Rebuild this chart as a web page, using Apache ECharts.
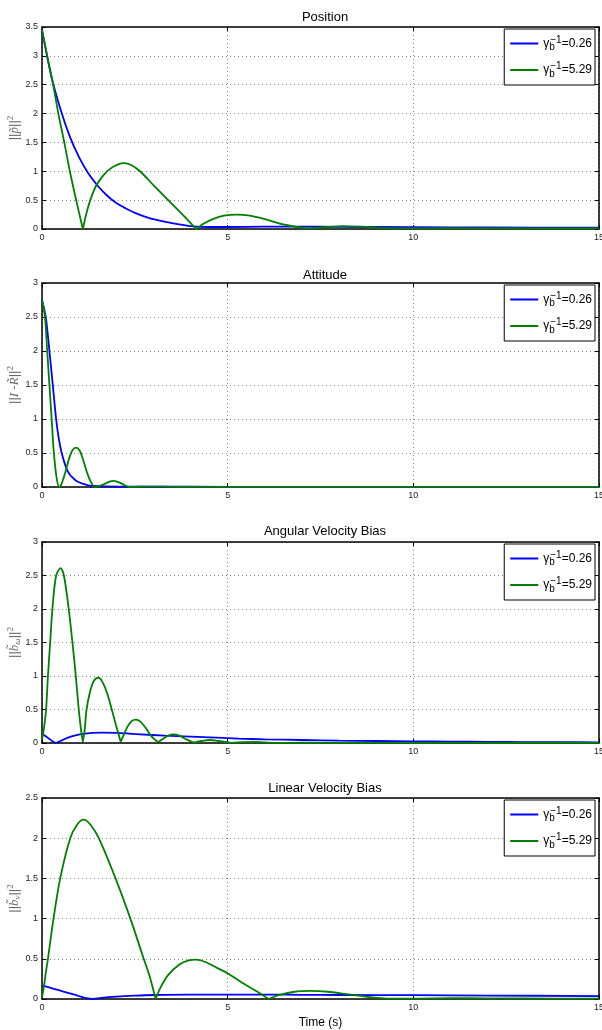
<!DOCTYPE html>
<html>
<head>
<meta charset="utf-8">
<script src="https://cdn.jsdelivr.net/npm/echarts@6/dist/echarts.min.js"></script>
<style>
html,body{margin:0;padding:0;background:#fff;}
#c{width:602px;height:1030px;}
</style>
</head>
<body>
<div id="c"></div>
<script>
// ---------- data ----------
var titles = ['Position', 'Attitude', 'Angular Velocity Bias', 'Linear Velocity Bias'];
var legendNames = ['γb−1=0.26', 'γb−1=5.29'];
var xTicks = [0, 5, 10, 15];
var yMax = [3.5, 3, 3, 2.5];

// Position
var posBlueT = [0,0.25,0.5,0.75,1.0,1.25,1.5,1.75,2.0,2.25,2.5,2.75,3.0,3.5,4.0,4.5,5,6,7,8,10,12,15];
var posBlueV = [3.45,2.65,2.07,1.6,1.24,0.96,0.75,0.58,0.45,0.36,0.28,0.22,0.17,0.1,0.05,0.035,0.035,0.04,0.04,0.038,0.032,0.027,0.022];
var posGreenT = [0,0.14,0.3,0.44,0.6,0.75,0.92,1.1,1.2,1.3,1.45,1.65,1.85,2.05,2.2,2.4,2.64,3.0,3.4,3.8,4.15,4.35,4.6,4.9,5.25,5.6,6.0,6.5,7.2,7.6,8.1,8.6,9.3,10,11,12,13,15];
var posGreenV = [3.45,3.0,2.5,2.0,1.5,1.0,0.5,0.0,0.28,0.5,0.74,0.93,1.05,1.12,1.14,1.11,1.0,0.76,0.5,0.24,0.0,0.09,0.17,0.23,0.25,0.23,0.17,0.08,0.01,0.03,0.05,0.04,0.015,0.01,0.015,0.01,0.01,0.01];

// Attitude
var attBlueT = [0,0.1,0.2,0.29,0.38,0.45,0.53,0.66,0.75,0.84,0.95,1.11,1.25,1.4,1.7,2.2,3,5,8,15];
var attBlueV = [2.75,2.5,2.0,1.5,1.0,0.72,0.5,0.27,0.18,0.13,0.08,0.045,0.025,0.015,0.008,0.005,0.004,0.003,0.002,0.001];
var attGreenT = [0,0.08,0.14,0.2,0.26,0.32,0.39,0.46,0.53,0.62,0.72,0.82,0.92,1.02,1.12,1.22,1.32,1.43,1.55,1.7,1.82,1.92,2.02,2.15,2.27,2.37,2.6,3,3.5,5,10,15];
var attGreenV = [2.75,2.5,2.0,1.5,1.0,0.5,0.15,0.0,0.05,0.2,0.4,0.54,0.58,0.53,0.38,0.2,0.07,0.0,0.015,0.05,0.08,0.09,0.08,0.05,0.015,0.0,0.004,0.006,0.003,0.002,0.001,0.001];

// Angular velocity bias
var angBlueT = [0,0.1,0.2,0.3,0.38,0.5,0.7,0.9,1.1,1.35,1.6,2.0,2.64,3.3,4.0,4.7,5.3,6,7,8,9,10,11,12,13,14,15];
var angBlueV = [0.14,0.1,0.06,0.02,0.0,0.03,0.08,0.115,0.135,0.15,0.155,0.15,0.13,0.11,0.095,0.08,0.065,0.055,0.045,0.035,0.03,0.025,0.02,0.017,0.014,0.012,0.01];
var angGreenT = [0,0.06,0.11,0.16,0.22,0.28,0.38,0.5,0.59,0.72,0.82,0.91,0.99,1.05,1.1,1.15,1.2,1.3,1.4,1.52,1.62,1.75,1.88,2.0,2.12,2.2,2.3,2.42,2.53,2.65,2.8,2.95,3.13,3.25,3.4,3.54,3.7,3.9,4.09,4.3,4.52,4.75,5.1,5.4,5.7,6.0,6.4,7,8,10,15];
var angGreenV = [0.05,0.25,0.5,1.0,1.5,2.0,2.5,2.61,2.5,2.0,1.5,1.0,0.5,0.2,0.02,0.2,0.5,0.78,0.93,0.975,0.92,0.75,0.5,0.25,0.02,0.12,0.24,0.33,0.35,0.32,0.22,0.1,0.01,0.06,0.11,0.13,0.11,0.05,0.005,0.03,0.045,0.03,0.003,0.012,0.015,0.008,0.002,0.004,0.002,0.001,0.001];

// Linear velocity bias
var linBlueT = [0,0.3,0.6,0.9,1.15,1.35,1.6,2.0,2.5,3.0,4,5,6,7,8,10,12,15];
var linBlueV = [0.17,0.13,0.09,0.05,0.015,0.0,0.015,0.03,0.042,0.05,0.055,0.055,0.055,0.052,0.05,0.047,0.043,0.037];
var linGreenT = [0,0.05,0.1,0.16,0.31,0.49,0.76,0.95,1.12,1.3,1.53,1.98,2.38,2.74,2.9,3.06,3.2,3.4,3.7,3.95,4.15,4.4,4.7,5.0,5.4,5.8,6.1,6.4,6.8,7.22,7.7,8.2,8.7,9.28,10,11,12,13,15];
var linGreenV = [0.02,0.15,0.32,0.5,1.0,1.5,2.0,2.17,2.23,2.17,2.0,1.5,1.0,0.5,0.28,0.0,0.15,0.3,0.43,0.48,0.49,0.46,0.39,0.32,0.2,0.09,0.0,0.05,0.09,0.1,0.09,0.06,0.03,0.005,0.005,0.01,0.008,0.006,0.005];

// times where the curve has a sharp corner (curve is split there so the corner stays sharp)
var cuspBlue = [[], [], [0.38], [1.35]];
var cuspGreen = [[1.1, 4.15], [], [1.1, 2.12, 3.13, 4.09, 5.1], [3.06, 6.1]];

var yNames = [
  '{m|||}{i|p̃}{m|||}{p|2}',
  '{m|||}{i|I -R̃}{m|||}{p|2}',
  '{m|||}{i|b̃}{s|ω}{m|||}{p|2}',
  '{m|||}{i|b̃}{s|v}{m|||}{p|2}'
];

// ---------- build ----------
function segments(t, v, cusps){
  var segs=[], cur=[];
  for(var i=0;i<t.length;i++){
    cur.push([t[i], v[i]]);
    if (cusps.indexOf(t[i]) >= 0 && i>0 && i<t.length-1){
      segs.push(cur);
      cur=[[t[i], v[i]]];
    }
  }
  segs.push(cur);
  return segs;
}
var blueSets = [[posBlueT,posBlueV],[attBlueT,attBlueV],[angBlueT,angBlueV],[linBlueT,linBlueV]];
var greenSets = [[posGreenT,posGreenV],[attGreenT,attGreenV],[angGreenT,angGreenV],[linGreenT,linGreenV]];

var gridTops = [27, 283, 542, 798];
var gridHeights = [202, 204, 201, 201];
var titleTops = [6, 264, 520, 777];
var FONT = '"Liberation Sans", Arial, sans-serif';

var grids=[], xAxes=[], yAxes=[], series=[], legends=[], titleArr=[];
function addLine(k, name, color, segs, z){
  segs.forEach(function(d){
    series.push({name:name, type:'line', xAxisIndex:2*k, yAxisIndex:2*k,
      data:d, symbol:'none', showSymbol:false, smooth:0.3,
      lineStyle:{color:color, width:1.8}, itemStyle:{color:color}, z:z});
  });
}
for (var k=0;k<4;k++){
  grids.push({left:42, right:3, top:gridTops[k], height:gridHeights[k], containLabel:false, outerBoundsMode:'none'});
  titleArr.push({text:titles[k], left:320, textAlign:'center', top:titleTops[k],
    textStyle:{fontSize:13, fontWeight:'normal', color:'#000', fontFamily:FONT}});
  var axisLineS = {show:true, onZero:false, lineStyle:{color:'#000', width:1.5}};
  var tickS = {show:true, inside:true, length:4, lineStyle:{color:'#000', width:1}};
  var splitS = {show:true, lineStyle:{color:'#888', type:[1,3], width:1}};
  xAxes.push({type:'value', gridIndex:k, min:0, max:15, interval:5, position:'bottom',
    axisLine:axisLineS, axisTick:tickS, splitLine:splitS,
    axisLabel:{fontSize:9, color:'#222', fontFamily:FONT, margin:4},
    name: k===3 ? 'Time (s)' : '', nameLocation:'middle', nameGap:18, nameMoveOverlap:false,
    nameTextStyle:{fontSize:12, color:'#000', fontFamily:FONT}});
  xAxes.push({type:'value', gridIndex:k, min:0, max:15, interval:5, position:'top',
    axisLine:axisLineS, axisTick:tickS, splitLine:{show:false}, axisLabel:{show:false}});
  yAxes.push({type:'value', gridIndex:k, min:0, max:yMax[k], interval:0.5, position:'left',
    axisLine:axisLineS, axisTick:tickS, splitLine:splitS,
    axisLabel:{fontSize:9, color:'#222', fontFamily:FONT, margin:4},
    name:yNames[k], nameLocation:'middle', nameGap:19, nameRotate:90, nameMoveOverlap:false,
    nameTextStyle:{color:'#666', fontSize:13, fontFamily:'"DejaVu Serif", serif',
      rich:{
        m:{fontSize:13, color:'#666', fontFamily:'"Liberation Sans", sans-serif'},
        i:{fontSize:13, color:'#666', fontStyle:'italic', fontFamily:'"Liberation Serif", serif'},
        s:{fontSize:9, color:'#666', fontStyle:'italic', fontFamily:'"Liberation Serif", serif', padding:[6,0,0,0]},
        p:{fontSize:9, color:'#666', fontFamily:'"Liberation Serif", serif', padding:[0,0,8,0]}
      }}});
  yAxes.push({type:'value', gridIndex:k, min:0, max:yMax[k], interval:0.5, position:'right',
    axisLine:axisLineS, axisTick:tickS, splitLine:{show:false}, axisLabel:{show:false}});

  addLine(k, legendNames[0], '#0000ff', segments(blueSets[k][0], blueSets[k][1], cuspBlue[k]), 3);
  addLine(k, legendNames[1], '#008000', segments(greenSets[k][0], greenSets[k][1], cuspGreen[k]), 4);

  legends.push({data:legendNames, orient:'vertical', right:7, top:gridTops[k]+2,
    backgroundColor:'#fff', borderColor:'#000', borderWidth:1, borderRadius:0,
    padding:[6,3,6,6], itemWidth:28, itemHeight:2, itemGap:9, selectedMode:false,
    icon:'rect',
    formatter:function(n){ var v=n.split('=')[1]; return '{g|γ}{b|b}{s|−1}{t|='+v+'}'; },
    textStyle:{fontSize:12, color:'#000', fontFamily:FONT,
      rich:{
        g:{fontSize:12, fontFamily:FONT, color:'#000'},
        b:{fontSize:10, fontFamily:FONT, color:'#000', padding:[8,0,0,0], width:1},
        s:{fontSize:10, fontFamily:FONT, color:'#000', padding:[0,0,7,0]},
        t:{fontSize:12, fontFamily:FONT, color:'#000'}
      }}});
}

var chart = echarts.init(document.getElementById('c'), null, {renderer:'canvas'});
chart.setOption({
  animation:false,
  backgroundColor:'#fff',
  title:titleArr,
  grid:grids, xAxis:xAxes, yAxis:yAxes, series:series, legend:legends
});
</script>
</body>
</html>
